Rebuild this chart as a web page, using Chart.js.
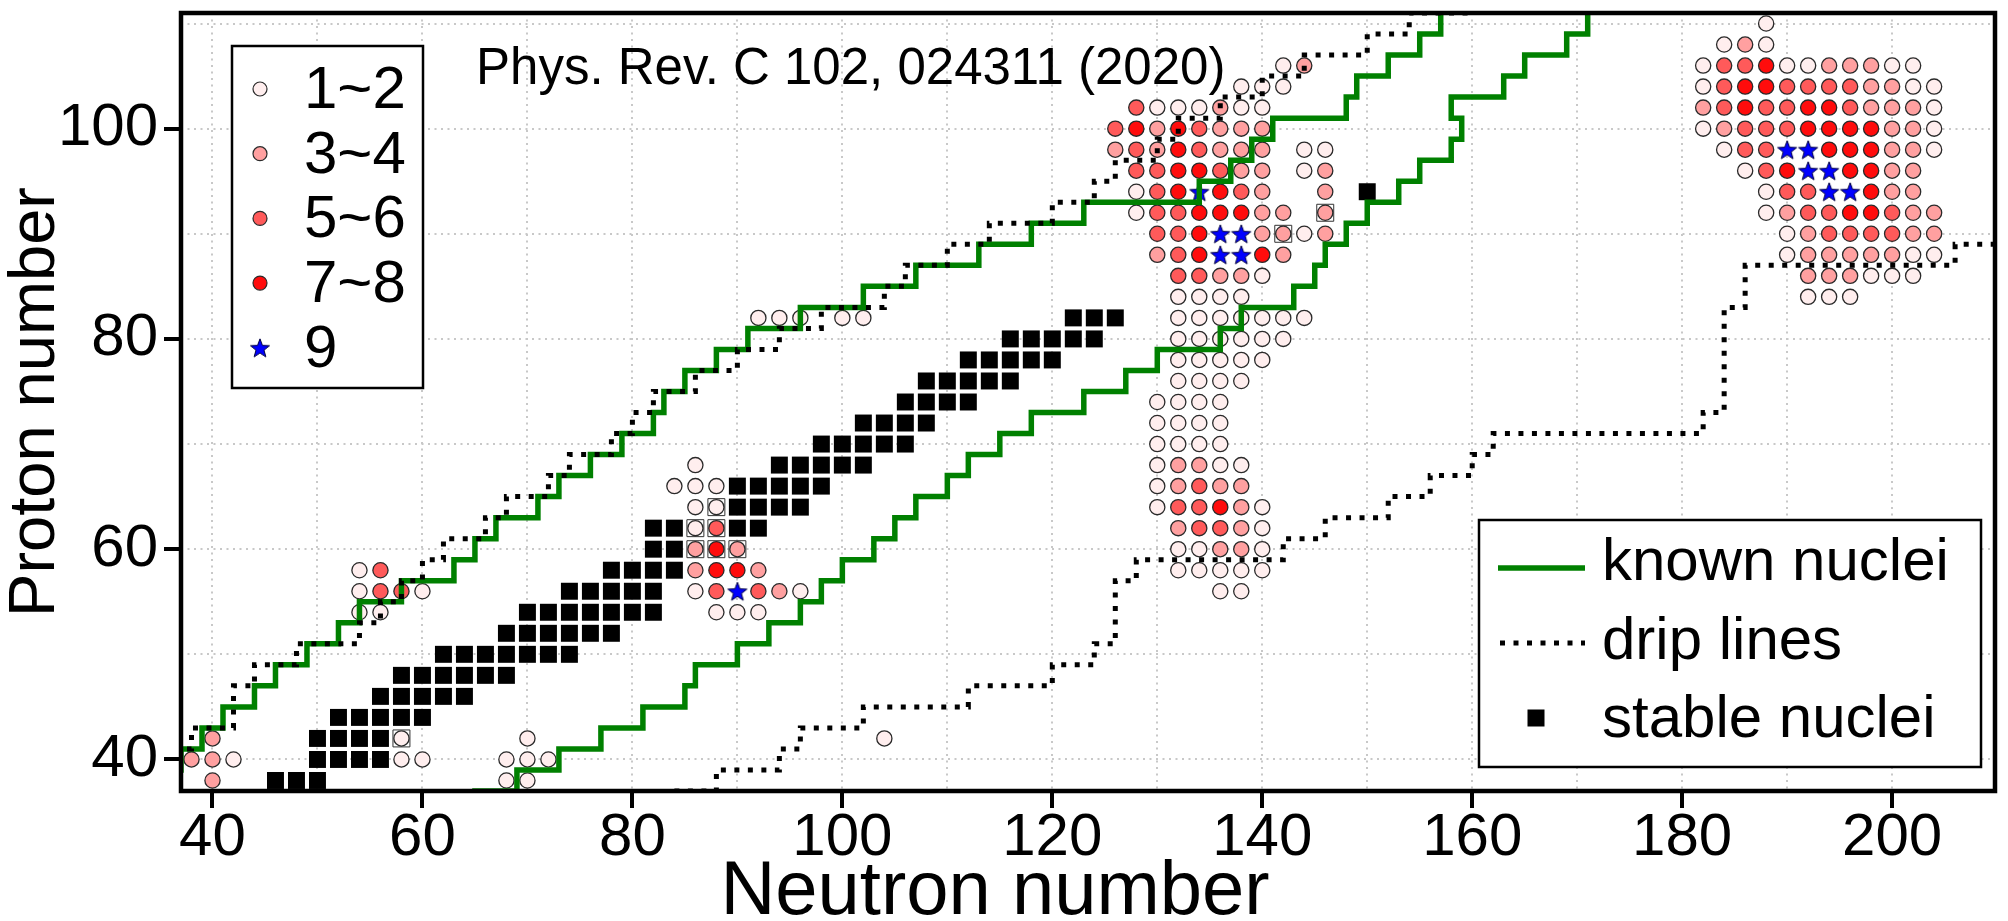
<!DOCTYPE html>
<html>
<head>
<meta charset="utf-8">
<script src="https://cdn.jsdelivr.net/npm/chart.js@4.4.1/dist/chart.umd.min.js"></script>
<style>
  html, body { margin: 0; padding: 0; background: #fff; }
</style>
</head>
<body>
<canvas id="grafico" width="2008" height="921"></canvas>
<script>
const FONT = '"Liberation Sans", Arial, Helvetica, sans-serif';

// axis ranges (N on x, Z on y)
const xRange = [37, 209.8];
const yRange = [37, 111];

// even-even stable nuclei: [Z, [N...]]
const stableNuclei = [
  [38, [46, 48, 50]],
  [40, [50, 52, 54, 56]],
  [42, [50, 52, 54, 56]],
  [44, [52, 54, 56, 58, 60]],
  [46, [56, 58, 60, 62, 64]],
  [48, [58, 60, 62, 64, 66, 68]],
  [50, [62, 64, 66, 68, 70, 72, 74]],
  [52, [68, 70, 72, 74, 76, 78]],
  [54, [70, 72, 74, 76, 78, 80, 82]],
  [56, [74, 76, 78, 80, 82]],
  [58, [78, 80, 82, 84]],
  [60, [82, 84]],
  [62, [82, 84, 90, 92]],
  [64, [90, 92, 94, 96]],
  [66, [90, 92, 94, 96, 98]],
  [68, [94, 96, 98, 100, 102]],
  [70, [98, 100, 102, 104, 106]],
  [72, [102, 104, 106, 108]],
  [74, [106, 108, 110, 112]],
  [76, [108, 110, 112, 114, 116]],
  [78, [112, 114, 116, 118, 120]],
  [80, [116, 118, 120, 122, 124]],
  [82, [122, 124, 126]],
  [94, [150]]
];
// stable nuclei that are covered by a circle
const stableUnderCircle = [
  [42, [58]], [60, [86, 88, 90]], [62, [86, 88]], [64, [88]], [90, [142]], [92, [146]]
];

// circles by count class: [Z, [N...]]
const count12 = [
  [38, [68, 70]],
  [40, [42, 58, 60, 68, 70, 72]],
  [42, [58, 70, 104]],
  [54, [54, 56, 88, 90, 92]],
  [56, [54, 60, 86, 96, 136, 138]],
  [58, [54, 132, 134, 136, 138, 140]],
  [60, [132, 134, 140]],
  [62, [86, 140]],
  [64, [86, 88, 130, 140]],
  [66, [84, 86, 88, 130]],
  [68, [86, 130, 136, 138]],
  [70, [130, 132, 134, 136]],
  [72, [130, 132, 134, 136]],
  [74, [130, 132, 134, 136]],
  [76, [132, 134, 136, 138]],
  [78, [132, 134, 136, 138, 140]],
  [80, [132, 134, 136, 138, 140, 142]],
  [82, [92, 94, 96, 100, 102, 132, 134, 136, 138, 140, 142, 144]],
  [84, [132, 134, 136, 138, 192, 194, 196]],
  [86, [140, 198, 200, 202]],
  [88, [190, 202, 204]],
  [90, [144, 190]],
  [92, [128, 188]],
  [94, [128, 188]],
  [96, [144, 186]],
  [98, [144, 146, 184, 204]],
  [100, [182, 204]],
  [102, [130, 132, 134, 138, 140, 204]],
  [104, [138, 140, 142, 182, 202, 204]],
  [106, [142, 182, 190, 192, 200, 202]],
  [108, [184, 188]],
  [110, [188]]
];
const count34 = [
  [38, [40]],
  [40, [38, 40]],
  [42, [40]],
  [56, [94]],
  [58, [86, 92]],
  [60, [86, 90, 136, 138]],
  [62, [132, 138]],
  [64, [138]],
  [66, [132, 136, 138]],
  [68, [132, 134]],
  [86, [136, 138, 192, 194, 196]],
  [88, [130, 142, 192, 194, 196, 198, 200]],
  [90, [140, 142, 146, 192, 202, 204]],
  [92, [140, 142, 146, 190, 202, 204]],
  [94, [140, 146, 200, 202]],
  [96, [138, 140, 146, 200, 202]],
  [98, [126, 130, 136, 138, 140, 200, 202]],
  [100, [130, 136, 138, 140, 184, 200, 202]],
  [102, [136, 182, 198, 200, 202]],
  [104, [198, 200]],
  [106, [144, 194, 196, 198]],
  [108, [186]]
];
const count56 = [
  [56, [56, 58, 88, 92]],
  [58, [56]],
  [62, [88, 134, 136]],
  [64, [132, 134]],
  [66, [134]],
  [86, [132, 134]],
  [88, [132]],
  [90, [130, 132, 194, 196, 198, 200]],
  [92, [130, 132, 192, 194, 200]],
  [94, [130, 138, 190, 192]],
  [96, [128, 130, 136, 188]],
  [98, [128, 134, 186, 188]],
  [100, [126, 134, 186, 188, 190]],
  [102, [128, 184, 188, 190, 196]],
  [104, [184, 190, 192, 194, 196]],
  [106, [184, 186]]
];
const count78 = [
  [58, [88, 90]],
  [60, [88]],
  [64, [136]],
  [88, [134, 140]],
  [90, [134]],
  [92, [134, 136, 138, 196, 198]],
  [94, [132, 136, 198]],
  [96, [132, 134, 190, 196, 198]],
  [98, [132, 194, 196, 198]],
  [100, [128, 132, 192, 194, 196, 198]],
  [102, [186, 192, 194]],
  [104, [186, 188]],
  [106, [188]]
];
const count9 = [
  [56, [90]],
  [88, [136, 138]],
  [90, [136, 138]],
  [94, [134, 194, 196]],
  [96, [192, 194]],
  [98, [190, 192]]
];

// step lines: N where the step happens, Z level after the step
const knownProtonN = [35, 37, 39, 41, 44, 46, 49, 52, 54, 58, 63, 65, 67, 71, 73, 76, 79, 82, 83, 85,
  88, 91, 96, 102, 107, 113, 118, 123, 134, 137, 139, 141, 148, 149, 152, 155, 157, 157];
const knownProtonZ = [39, 41, 43, 45, 47, 49, 51, 53, 55, 57, 59, 61, 63, 65, 67, 69, 71, 73, 75, 77,
  79, 81, 83, 85, 87, 89, 91, 93, 95, 97, 99, 101, 103, 105, 107, 109, 111, 115];
const knownNeutronN = [63, 65, 69, 73, 77, 81, 85, 86, 90, 93, 96, 98, 100, 103, 105, 107, 110, 112, 115, 118,
  123, 127, 130, 136, 138, 143, 145, 146, 148, 150, 153, 155, 158, 159, 158, 163, 165, 169, 171, 171];
const knownNeutronZ = [35, 37, 39, 41, 43, 45, 47, 49, 51, 53, 55, 57, 59, 61, 63, 65, 67, 69, 71, 73,
  75, 77, 79, 81, 83, 85, 87, 89, 91, 93, 95, 97, 99, 101, 103, 105, 107, 109, 111, 113];
const dripProtonN = [35, 38, 42, 44, 48, 54, 56, 58, 60, 62, 66, 68, 72, 74, 78, 80, 82, 86, 90, 94,
  98, 104, 106, 110, 114, 120, 124, 126, 130, 132, 136, 140, 144, 150, 154, 160];
const dripProtonZ = [41, 43, 47, 49, 51, 53, 55, 57, 59, 61, 63, 65, 67, 69, 71, 73, 75, 77, 79, 81,
  83, 85, 87, 89, 91, 93, 95, 97, 99, 101, 103, 105, 107, 109, 111, 113];
const dripNeutronN = [84, 88, 94, 96, 102, 112, 120, 124, 126, 128, 142, 146, 152, 156, 160, 162, 182, 184, 186, 206, 214];
const dripNeutronZ = [37, 39, 41, 43, 45, 47, 49, 51, 57, 59, 61, 63, 65, 67, 69, 71, 73, 83, 87, 89, 89];

const countLabels = ['1~2', '3~4', '5~6', '7~8', '9'];
const lineLabels = ['known nuclei', 'drip lines', 'stable nuclei'];
const refText = 'Phys. Rev. C 102, 024311 (2020)';
const xTitle = 'Neutron number';

const colors = { c12: '#ffeeee', c34: '#ffa0a0', c56: '#ff5a5a', c78: '#ff0c0c', star: '#0000ff', green: '#008000' };
const dotDash = [5, 8.5];

function toPoints(rows) {
  const pts = [];
  rows.forEach(([z, ns]) => ns.forEach(n => pts.push({ x: n, y: z })));
  return pts;
}
function stepPoints(ns, zs) {
  return ns.map((n, i) => ({ x: n, y: zs[i] }));
}

// five-pointed star marker
function makeStar(r) {
  const c = document.createElement('canvas');
  const s = Math.ceil(r * 2 + 4);
  c.width = s; c.height = s;
  const g = c.getContext('2d');
  g.beginPath();
  for (let i = 0; i < 10; i++) {
    const rad = i % 2 ? r * 0.42 : r;
    const a = -Math.PI / 2 + i * Math.PI / 5;
    g.lineTo(s / 2 + rad * Math.cos(a), s / 2 + r * 0.1 + rad * Math.sin(a));
  }
  g.closePath();
  g.fillStyle = colors.star; g.fill();
  g.lineWidth = 1; g.strokeStyle = '#000040'; g.stroke();
  return c;
}
const star = makeStar(10);

const circle = (label, rows, bg) => ({
  label, data: toPoints(rows), pointStyle: 'circle', pointRadius: 7.6,
  backgroundColor: bg, borderColor: '#2a2a2a', borderWidth: 1.3
});
const stepLine = (label, ns, zs, color, dash) => ({
  label, data: stepPoints(ns, zs), showLine: true, stepped: true, pointRadius: 0,
  borderColor: color, borderWidth: dash ? 5 : 5.5, borderDash: dash || [], borderCapStyle: 'butt', fill: false
});

const overlay = {
  id: 'overlay',
  afterDraw(chart) {
    const { ctx, chartArea: a } = chart;
    ctx.save();
    ctx.textBaseline = 'alphabetic';
    ctx.textAlign = 'left';
    ctx.fillStyle = '#000';
    ctx.font = `51px ${FONT}`;
    ctx.fillText(refText, 476, 84);

    // x axis title (sits left of the plot centre in the original)
    ctx.font = `76px ${FONT}`;
    ctx.textAlign = 'center';
    ctx.fillText(xTitle, 995, 914);
    ctx.textAlign = 'left';

    // count legend
    ctx.fillStyle = '#fff';
    ctx.fillRect(232, 46, 191, 342);
    ctx.lineWidth = 2.5; ctx.strokeStyle = '#000';
    ctx.strokeRect(232, 46, 191, 342);
    const fills = [colors.c12, colors.c34, colors.c56, colors.c78];
    countLabels.forEach((t, i) => {
      const y = 89 + 64.7 * i;
      if (i < 4) {
        ctx.beginPath();
        ctx.arc(260, y, 7, 0, Math.PI * 2);
        ctx.fillStyle = fills[i]; ctx.fill();
        ctx.lineWidth = 1.2; ctx.strokeStyle = '#2a2a2a'; ctx.stroke();
      } else {
        ctx.drawImage(star, 260 - star.width / 2, y - star.height / 2);
      }
      ctx.fillStyle = '#000';
      ctx.font = `60px ${FONT}`;
      ctx.fillText(t, 304, y + 19);
    });

    // line legend
    ctx.fillStyle = '#fff';
    ctx.fillRect(1479, 520, 502, 247);
    ctx.lineWidth = 2.5; ctx.strokeStyle = '#000';
    ctx.strokeRect(1479, 520, 502, 247);
    ctx.lineWidth = 5.5; ctx.strokeStyle = colors.green;
    ctx.beginPath(); ctx.moveTo(1498, 568); ctx.lineTo(1585, 568); ctx.stroke();
    ctx.lineWidth = 5; ctx.strokeStyle = '#000'; ctx.setLineDash(dotDash);
    ctx.beginPath(); ctx.moveTo(1500, 643); ctx.lineTo(1585, 643); ctx.stroke();
    ctx.setLineDash([]);
    ctx.fillStyle = '#000';
    ctx.fillRect(1536 - 8.5, 718 - 8.5, 17, 17);
    ctx.font = `60px ${FONT}`;
    lineLabels.forEach((t, i) => ctx.fillText(t, 1602, 580 + 78.5 * i));

    // frame
    ctx.lineWidth = 4.5; ctx.strokeStyle = '#000';
    ctx.strokeRect(a.left, a.top, a.right - a.left, a.bottom - a.top);
    ctx.restore();
  }
};

const tickColor = c => (c.tick && c.tick.value % 20 === 0) ? '#000' : 'rgba(0,0,0,0)';

const ctx = document.getElementById('grafico').getContext('2d');
const grafico = new Chart(ctx, {
  type: 'scatter',
  data: {
    datasets: [
      stepLine('drip lines', dripProtonN, dripProtonZ, '#000', dotDash),
      stepLine('drip lines n', dripNeutronN, dripNeutronZ, '#000', dotDash),
      stepLine('known nuclei', knownProtonN, knownProtonZ, colors.green),
      stepLine('known nuclei n', knownNeutronN, knownNeutronZ, colors.green),
      { label: '9', data: toPoints(count9), pointStyle: star, pointRadius: 10 },
      circle('7~8', count78, colors.c78),
      circle('5~6', count56, colors.c56),
      circle('3~4', count34, colors.c34),
      circle('1~2', count12, colors.c12),
      { label: 'stable under circle', data: toPoints(stableUnderCircle), pointStyle: 'rect', pointRadius: 12,
        backgroundColor: '#fff', borderColor: '#333', borderWidth: 1 },
      { label: 'stable nuclei', data: toPoints(stableNuclei), pointStyle: 'rect', pointRadius: 12,
        backgroundColor: '#000', borderColor: '#000', borderWidth: 0 }
    ]
  },
  options: {
    responsive: false,
    animation: false,
    events: [],
    layout: { padding: { top: 10, right: 5, left: 0, bottom: 0 } },
    plugins: { legend: { display: false }, tooltip: { enabled: false } },
    scales: {
      x: {
        type: 'linear', min: xRange[0], max: xRange[1], z: 1,
        afterFit: s => { s.height = 130; s.paddingLeft = 0; s.paddingRight = 0; },
        border: { display: false, dash: [2, 4.5] },
        grid: { color: '#c8c8c8', lineWidth: 2, tickLength: 17, tickWidth: 4, tickColor },
        ticks: {
          stepSize: 10, includeBounds: false, autoSkip: false, maxRotation: 0, padding: 0,
          color: '#000', font: { family: FONT, size: 60, lineHeight: 1 },
          callback: v => v % 20 === 0 ? v : ''
        },
        title: { display: false }
      },
      y: {
        type: 'linear', min: yRange[0], max: yRange[1], z: 1,
        afterFit: s => { s.width = 181; s.paddingTop = 0; s.paddingBottom = 0; },
        border: { display: false, dash: [2, 4.5] },
        grid: { color: '#c8c8c8', lineWidth: 2, tickLength: 17, tickWidth: 4, tickColor },
        ticks: {
          stepSize: 10, includeBounds: false, autoSkip: false, padding: 6,
          color: '#000', font: { family: FONT, size: 60, lineHeight: 1 },
          callback: v => v % 20 === 0 ? v : ''
        },
        title: { display: true, text: 'Proton number', color: '#000',
          font: { family: FONT, size: 65, lineHeight: 1 }, padding: { top: 4, bottom: 0 } }
      }
    }
  },
  plugins: [overlay]
});
</script>
</body>
</html>
